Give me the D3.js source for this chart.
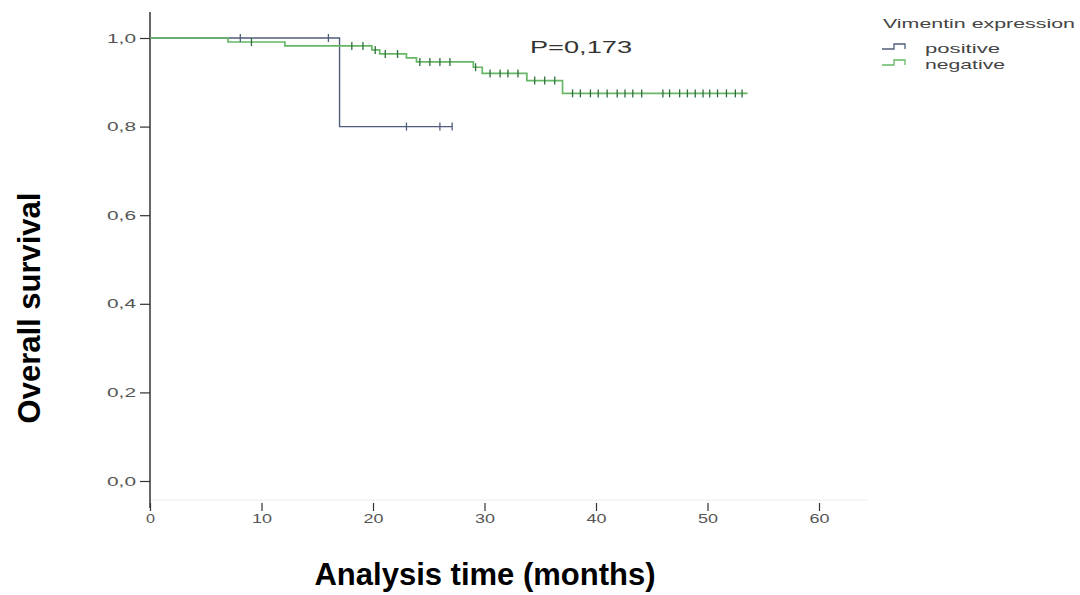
<!DOCTYPE html>
<html>
<head>
<meta charset="utf-8">
<script src="https://cdn.jsdelivr.net/npm/d3@7"></script>
<style>
  body { margin: 0; background: #fff; }
  svg { display: block; }
</style>
</head>
<body>
<div id="chart"></div>
<script>
// positive group: step times / survival, censor times
const posTimes = [0, 17.0, 27.1];
const posSurv = [1.0, 0.8, 0.8];
const posCensor = [8.1, 16.0, 23.0, 26.0, 27.1];

// negative group
const negTimes = [0, 7.0, 12.1, 19.9, 20.6, 23.0, 23.9, 29.0, 29.8, 33.8, 37.0, 53.6];
const negSurv = [1.0, 0.991, 0.982, 0.973, 0.964, 0.955, 0.946, 0.934, 0.920, 0.904, 0.875, 0.875];
const negCensor = [9.1, 18.1, 19.1, 20.2, 21.1, 22.2, 24.2, 25.1, 26.0, 26.9, 29.2, 30.5, 31.4, 32.1, 33.0,
  34.5, 35.4, 36.3, 37.9, 38.6, 39.5, 40.2, 41.0, 41.9, 42.6, 43.3, 44.1,
  46.0, 46.6, 47.5, 48.2, 48.9, 49.6, 50.2, 50.9, 51.7, 52.5, 53.1];

const xTicks = [0, 10, 20, 30, 40, 50, 60];
const yTicks = [0, 0.2, 0.4, 0.6, 0.8, 1.0];
const groups = ["positive", "negative"];

const W = 1080, H = 595;
const svg = d3.select("#chart").append("svg").attr("width", W).attr("height", H)
  .style("font-family", "Arial, 'Liberation Sans', sans-serif");

const x = d3.scaleLinear().domain([0, 60]).range([150, 819]);
const y = d3.scaleLinear().domain([0, 1]).range([481, 38]);

const posColor = "#4f5d7c", negColor = "#66b866", negMark = "#2f6e3c";

// the source picture is stretched sideways, so small texts get a fixed width
function stretch(sel, w) {
  sel.attr("textLength", w).attr("lengthAdjust", "spacingAndGlyphs");
}

// faint baseline
svg.append("line").attr("x1", 150).attr("x2", 868).attr("y1", 500).attr("y2", 500)
  .attr("stroke", "#ececec").attr("stroke-width", 1);

// y axis
const yAxis = svg.append("g").attr("transform", "translate(150,0)")
  .call(d3.axisLeft(y).tickValues(yTicks).tickSize(10).tickPadding(4)
    .tickFormat(d => d3.format(".1f")(d).replace(".", ",")));
yAxis.select(".domain").remove();
yAxis.selectAll(".tick line").attr("stroke", "#333").attr("stroke-width", 1.2);
yAxis.selectAll(".tick text").attr("fill", "#555").style("font-size", "13px").call(stretch, 29);
svg.append("line").attr("x1", 150).attr("x2", 150).attr("y1", 12).attr("y2", 508)
  .attr("stroke", "#333").attr("stroke-width", 1.5);

// x axis (ticks above labels, no domain line)
const xAxis = svg.append("g").attr("transform", "translate(0,503)")
  .call(d3.axisBottom(x).tickValues(xTicks).tickSize(8).tickPadding(3));
xAxis.select(".domain").remove();
xAxis.selectAll(".tick line").attr("stroke", "#333").attr("stroke-width", 1.2);
xAxis.selectAll(".tick text").attr("fill", "#555").style("font-size", "13px")
  .each(function (d) { d3.select(this).call(stretch, d === 0 ? 9 : 20); });

// curves
function stepData(times, surv) { return times.map((t, i) => [t, surv[i]]); }
function survAt(times, surv, t) {
  let s = surv[0];
  times.forEach((tt, i) => { if (tt <= t) s = surv[i]; });
  return s;
}
const line = d3.line().x(d => x(d[0])).y(d => y(d[1])).curve(d3.curveStepAfter);

svg.append("path").datum(stepData(posTimes, posSurv)).attr("d", line)
  .attr("fill", "none").attr("stroke", posColor).attr("stroke-width", 1.4);
svg.append("path").datum(stepData(negTimes, negSurv)).attr("d", line)
  .attr("fill", "none").attr("stroke", negColor).attr("stroke-width", 1.7);

svg.selectAll(".negc").data(negCensor).enter().append("line").attr("class", "negc")
  .attr("x1", d => x(d)).attr("x2", d => x(d))
  .attr("y1", d => y(survAt(negTimes, negSurv, d)) - 4)
  .attr("y2", d => y(survAt(negTimes, negSurv, d)) + 4)
  .attr("stroke", negMark).attr("stroke-width", 1.3);
svg.selectAll(".posc").data(posCensor).enter().append("line").attr("class", "posc")
  .attr("x1", d => x(d)).attr("x2", d => x(d))
  .attr("y1", d => y(survAt(posTimes, posSurv, d)) - 4)
  .attr("y2", d => y(survAt(posTimes, posSurv, d)) + 4)
  .attr("stroke", posColor).attr("stroke-width", 1.3);

// p value
svg.append("text").attr("x", 530).attr("y", 53).text("P=0,173")
  .attr("fill", "#333").style("font-size", "17px").call(stretch, 102);

// legend
svg.append("text").attr("x", 883).attr("y", 28).text("Vimentin expression")
  .attr("fill", "#444").style("font-size", "13px").call(stretch, 192);
const leg = svg.selectAll(".leg").data(groups).enter().append("g")
  .attr("transform", (d, i) => `translate(882,${49 + i * 16})`);
leg.append("path").attr("d", "M0,0 H12 V-5 H23 V0").attr("fill", "none")
  .attr("stroke", (d, i) => i === 0 ? posColor : negColor).attr("stroke-width", 1.3);
leg.append("text").attr("x", 43).attr("y", 4).text(d => d)
  .attr("fill", "#444").style("font-size", "13px")
  .each(function (d, i) { d3.select(this).call(stretch, i === 0 ? 75 : 80); });

// axis titles
svg.append("text").attr("x", 485).attr("y", 585).attr("text-anchor", "middle")
  .text("Analysis time (months)").style("font-size", "31px").style("font-weight", "bold").attr("fill", "#000");
svg.append("text").attr("transform", "translate(40,308) rotate(-90)").attr("text-anchor", "middle")
  .text("Overall survival").style("font-size", "31px").style("font-weight", "bold").attr("fill", "#000");
</script>
</body>
</html>
